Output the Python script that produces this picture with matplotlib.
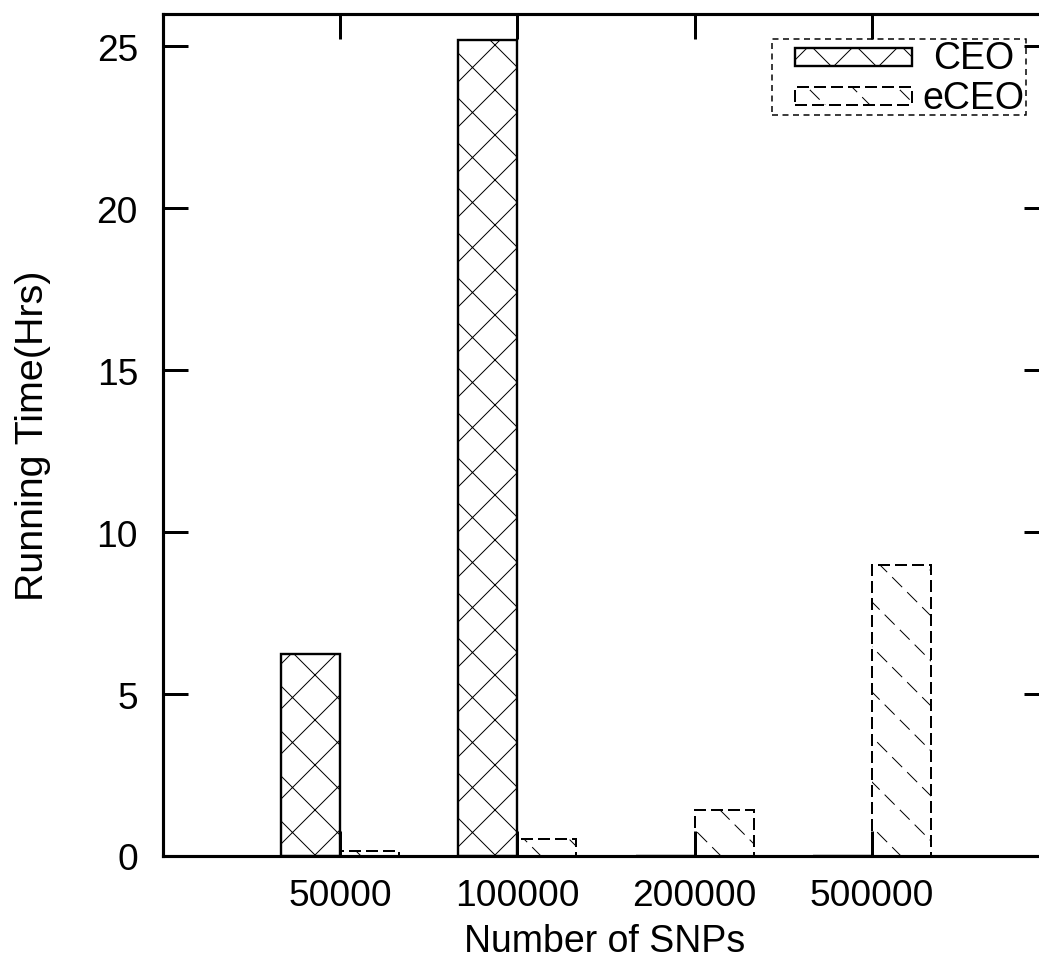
import numpy as np
import matplotlib
matplotlib.use('Agg')
import matplotlib.pyplot as plt
import matplotlib.hatch as mhatch
from matplotlib.path import Path
from matplotlib.patches import Rectangle

# data
snps = ['50000', '100000', '200000', '500000']
ceo_hrs = [6.25, 25.2, 0, 0]
eceo_hrs = [0.15, 0.52, 1.42, 8.98]
yticks = [0, 5, 10, 15, 20, 25]


# gnuplot-like sparse hatches (one hatch unit = dpi pixels)
class SparseCross(mhatch.HatchPatternBase):
    def __init__(self, hatch, density):
        self.num_lines = 4 if 'x' in hatch else 0
        self.num_vertices = (self.num_lines + 1) * 4 if self.num_lines else 0

    def set_vertices_and_codes(self, vertices, codes):
        steps = np.linspace(-0.5, 0.5, self.num_lines + 1)
        n = self.num_lines + 1
        vertices[0:2 * n:2, 0] = steps
        vertices[0:2 * n:2, 1] = -steps
        vertices[1:2 * n:2, 0] = 1 + steps
        vertices[1:2 * n:2, 1] = 1 - steps
        vertices[2 * n::2, 0] = steps
        vertices[2 * n::2, 1] = 1 + steps
        vertices[2 * n + 1::2, 0] = 1 + steps
        vertices[2 * n + 1::2, 1] = steps
        codes[0::2] = Path.MOVETO
        codes[1::2] = Path.LINETO


class DashedBack(mhatch.HatchPatternBase):
    ndash = 6
    frac = 0.62

    def __init__(self, hatch, density):
        self.num_lines = 4 if '\\' in hatch else 0
        self.num_vertices = (self.num_lines + 1) * self.ndash * 2 if self.num_lines else 0

    def set_vertices_and_codes(self, vertices, codes):
        steps = np.linspace(-0.5, 0.5, self.num_lines + 1)
        i = 0
        for s in steps:
            for k in range(self.ndash):
                for t in (k / self.ndash, (k + self.frac) / self.ndash):
                    vertices[i] = (s + t, 1 + s - t)
                    i += 1
        codes[0::2] = Path.MOVETO
        codes[1::2] = Path.LINETO


mhatch._hatch_types[:] = [SparseCross, DashedBack]

plt.rcParams['font.family'] = 'Liberation Sans'
plt.rcParams['hatch.linewidth'] = 0.8
plt.rcParams['hatch.color'] = 'black'

W, H, DPI = 1039, 966, 90
fig = plt.figure(figsize=(W / DPI, H / DPI), dpi=DPI)
ax = fig.add_axes([163 / W, 109 / H, 886 / W, 842 / H])

x = np.arange(1, len(snps) + 1)
dash = (0, (6, 2.5))
ax.bar(x - 1 / 6, ceo_hrs, width=1 / 3, facecolor='white', edgecolor='black',
       linewidth=1.9, hatch='x', label='CEO')
ax.bar(x + 1 / 6, eceo_hrs, width=1 / 3, facecolor='white', edgecolor='black',
       linewidth=1.6, linestyle=dash, hatch='\\', label='eCEO')

ax.set_xlim(0, 5)
ax.set_ylim(0, 26)
ax.set_xticks(x, snps)
ax.set_yticks(yticks)
ax.tick_params(direction='in', length=20, width=2.4, top=True, right=True,
               labelsize=29.7)
ax.tick_params(axis='x', pad=18)
ax.tick_params(axis='y', pad=20)
for sp in ax.spines.values():
    sp.set_linewidth(2.5)

ax.set_xlabel('Number of SNPs', fontsize=30)
ax.set_ylabel('Running Time(Hrs)', fontsize=31.5)
ax.xaxis.set_label_coords(0.498, (857 - 924) / 842)
ax.yaxis.set_label_coords((51 - 163) / 886, 0.5)


# legend drawn by hand in gnuplot style
def fx(px):
    return px / W


def fy(py):
    return 1 - py / H


fig.add_artist(Rectangle((fx(772), fy(116)), fx(1026) - fx(772), fy(40) - fy(116),
                         transform=fig.transFigure, fill=False, edgecolor='black',
                         linewidth=1.2, linestyle=(0, (4, 3))))
fig.add_artist(Rectangle((fx(795), fy(67)), fx(912) - fx(795), fy(49) - fy(67),
                         transform=fig.transFigure, facecolor='white', edgecolor='black',
                         linewidth=1.9, hatch='x'))
fig.add_artist(Rectangle((fx(795), fy(106)), fx(912) - fx(795), fy(88) - fy(106),
                         transform=fig.transFigure, facecolor='white', edgecolor='black',
                         linewidth=1.6, linestyle=dash, hatch='\\'))
fig.text(fx(1014), fy(59), 'CEO', ha='right', va='center', fontsize=30)
fig.text(fx(1024), fy(99), 'eCEO', ha='right', va='center', fontsize=30)

fig.savefig('out.png', dpi=DPI)
